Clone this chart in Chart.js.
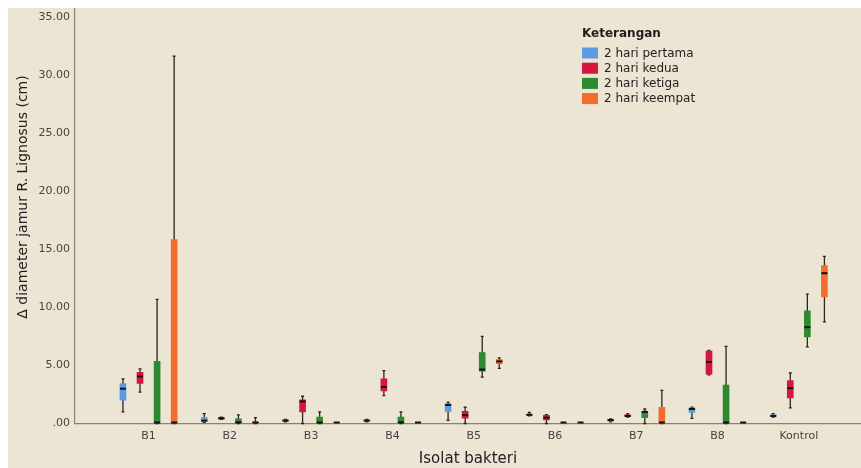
<!DOCTYPE html>
<html>
<head>
<meta charset="utf-8">
<script src="https://cdn.jsdelivr.net/npm/chart.js@4/dist/chart.umd.min.js"></script>
<style>
    html, body { margin: 0; padding: 0; background: #ffffff; }
    #wrap { position: absolute; left: 8px; top: 8px; width: 853px; height: 460px; background: #ece5d3; }
</style>
</head>
<body>
<div id="wrap"><canvas id="boxChart"></canvas></div>
<script>
// categories and series
var categories = ['B1', 'B2', 'B3', 'B4', 'B5', 'B6', 'B7', 'B8', 'Kontrol'];
var seriesLabels = ['2 hari pertama', '2 hari kedua', '2 hari ketiga', '2 hari keempat'];
var seriesColors = ['#5b9be3', '#d8163d', '#2e8a2e', '#f26c2c'];
var yTitle = 'Δ diameter jamur R. Lignosus (cm)';

// five-number summaries per category: [min, q1, median, q3, max]
var hariPertama = [
    [1.0, 2.0, 3.0, 3.45, 3.85],
    [0.1, 0.15, 0.25, 0.5, 0.85],
    [0.15, 0.2, 0.25, 0.3, 0.35],
    [0.15, 0.2, 0.25, 0.3, 0.35],
    [0.28, 1.05, 1.6, 1.7, 1.85],
    [0.65, 0.7, 0.75, 0.8, 0.95],
    [0.15, 0.2, 0.3, 0.35, 0.4],
    [0.45, 0.95, 1.25, 1.35, 1.4],
    [0.55, 0.6, 0.65, 0.75, 0.85]
];
var hariKedua = [
    [2.7, 3.45, 4.05, 4.4, 4.7],
    [0.35, 0.4, 0.45, 0.5, 0.55],
    [0, 1.0, 1.9, 2.05, 2.35],
    [2.4, 2.8, 3.15, 3.85, 4.55],
    [0, 0.45, 0.72, 1.05, 1.4],
    [0, 0.3, 0.5, 0.7, 0.77],
    [0.55, 0.6, 0.65, 0.75, 0.85],
    [4.2, 4.25, 5.3, 6.25, 6.3],
    [1.35, 2.2, 3.05, 3.7, 4.35]
];
var hariKetiga = [
    [0, 0, 0, 5.35, 10.7],
    [0, 0.05, 0.1, 0.4, 0.75],
    [0, 0, 0.05, 0.55, 1.0],
    [0, 0.05, 0.1, 0.55, 1.0],
    [4.0, 4.5, 4.65, 6.1, 7.5],
    [0, 0, 0, 0, 0],
    [0, 0.5, 1.0, 1.05, 1.25],
    [0, 0, 0, 3.3, 6.65],
    [6.6, 7.45, 8.3, 9.7, 11.15]
];
var hariKeempat = [
    [0, 0, 0, 15.85, 31.65],
    [0, 0, 0.05, 0.15, 0.5],
    [0, 0, 0, 0, 0],
    [0, 0, 0, 0, 0],
    [4.75, 5.15, 5.35, 5.5, 5.65],
    [0, 0, 0, 0, 0],
    [0, 0, 0, 1.4, 2.85],
    [0, 0, 0, 0, 0],
    [8.75, 10.9, 12.95, 13.6, 14.4]
];
var yTickValues = [0, 5, 10, 15, 20, 25, 30, 35];

(function () {
    var allSeries = [hariPertama, hariKedua, hariKetiga, hariKeempat];
    var slotWidth = 0.21; // fraction of a category used by one box slot

    function buildDatasets() {
        return allSeries.map(function (stats, s) {
            var shift = (s - 1.5) * slotWidth;
            return {
                label: seriesLabels[s],
                backgroundColor: seriesColors[s],
                borderWidth: 0,
                barThickness: 6,
                grouped: false,
                stats: stats,
                data: stats.map(function (st, i) {
                    return { x: i + shift, y: [st[1], st[3]] };
                })
            };
        });
    }

    var whiskerPlugin = {
        id: 'whiskers',
        beforeDatasetsDraw: function (chart) {
            var ctx = chart.ctx;
            var yScale = chart.scales.y;
            ctx.save();
            ctx.strokeStyle = '#2c261e';
            ctx.lineWidth = 1.3;
            chart.data.datasets.forEach(function (ds, d) {
                var meta = chart.getDatasetMeta(d);
                meta.data.forEach(function (bar, i) {
                    var st = ds.stats[i];
                    var top = yScale.getPixelForValue(st[4]);
                    var bottom = yScale.getPixelForValue(st[0]);
                    if (st[4] === st[0]) {
                        return;
                    }
                    ctx.beginPath();
                    ctx.moveTo(bar.x, top);
                    ctx.lineTo(bar.x, bottom);
                    ctx.moveTo(bar.x - 1.5, top);
                    ctx.lineTo(bar.x + 1.5, top);
                    ctx.moveTo(bar.x - 1.5, bottom);
                    ctx.lineTo(bar.x + 1.5, bottom);
                    ctx.stroke();
                });
            });
            ctx.restore();
        },
        afterDatasetsDraw: function (chart) {
            var ctx = chart.ctx;
            var yScale = chart.scales.y;
            ctx.save();
            ctx.fillStyle = '#111111';
            chart.data.datasets.forEach(function (ds, d) {
                var meta = chart.getDatasetMeta(d);
                meta.data.forEach(function (bar, i) {
                    var med = yScale.getPixelForValue(ds.stats[i][2]);
                    ctx.fillRect(bar.x - 3, Math.min(med - 1, yScale.bottom - 2), 6, 2);
                });
            });
            ctx.restore();
        }
    };

    var legendPlugin = {
        id: 'keteranganLegend',
        afterDraw: function (chart) {
            var ctx = chart.ctx;
            var left = 574;
            ctx.save();
            ctx.textBaseline = 'middle';
            ctx.fillStyle = '#1e1e1e';
            ctx.font = 'bold 12px "DejaVu Sans"';
            ctx.fillText('Keterangan', left, 26);
            ctx.font = '12px "DejaVu Sans"';
            chart.data.datasets.forEach(function (ds, d) {
                var cy = 45 + d * 15.2;
                ctx.fillStyle = ds.backgroundColor;
                ctx.fillRect(left, cy - 5.5, 16, 11);
                ctx.fillStyle = '#222222';
                ctx.fillText(ds.label, left + 22, cy + 0.5);
            });

            // y axis title, sitting a little above the axis middle as in SPSS output
            ctx.translate(15, 189);
            ctx.rotate(-Math.PI / 2);
            ctx.textAlign = 'center';
            ctx.fillStyle = '#222222';
            ctx.font = '14px "DejaVu Sans"';
            ctx.fillText(yTitle, 0, 0);
            ctx.restore();
        }
    };

    function initChart() {
        var canvas = document.getElementById('boxChart');
        new Chart(canvas.getContext('2d'), {
            type: 'bar',
            data: { datasets: buildDatasets() },
            plugins: [whiskerPlugin, legendPlugin],
            options: {
                responsive: true,
                maintainAspectRatio: false,
                animation: false,
                layout: { padding: 0 },
                plugins: {
                    legend: { display: false },
                    tooltip: { enabled: false }
                },
                scales: {
                    x: {
                        type: 'linear',
                        offset: false,
                        min: -0.905,
                        max: 8.765,
                        grid: { display: false, drawTicks: false, offset: false },
                        border: { display: true, color: '#8a8272', width: 1.2 },
                        afterBuildTicks: function (scale) {
                            scale.ticks = categories.map(function (c, i) { return { value: i }; });
                        },
                        ticks: {
                            color: '#444444',
                            font: { family: 'DejaVu Sans', size: 11 },
                            padding: 6,
                            maxRotation: 0,
                            callback: function (value) { return categories[value]; }
                        },
                        title: {
                            display: true,
                            text: 'Isolat bakteri',
                            color: '#222222',
                            font: { family: 'DejaVu Sans', size: 15 },
                            padding: { top: 5, bottom: 0 }
                        },
                        afterFit: function (scale) {
                            scale.height = 44.5;
                            scale.paddingLeft = 0;
                            scale.paddingRight = 0;
                        }
                    },
                    y: {
                        min: 0,
                        max: 35.8,
                        grid: { display: false, drawTicks: false },
                        border: { display: true, color: '#8a8272', width: 1.2 },
                        afterBuildTicks: function (scale) {
                            scale.ticks = yTickValues.map(function (v) { return { value: v }; });
                        },
                        ticks: {
                            color: '#444444',
                            font: { family: 'DejaVu Sans', size: 11 },
                            padding: 5,
                            callback: function (value) {
                                return value === 0 ? '.00' : value.toFixed(2);
                            }
                        },
                        afterFit: function (scale) {
                            scale.width = 67;
                            scale.paddingTop = 0;
                            scale.paddingBottom = 0;
                        }
                    }
                }
            }
        });
    }

    if (document.readyState === 'loading') {
        document.addEventListener('DOMContentLoaded', initChart);
    } else {
        initChart();
    }
})();
</script>
</body>
</html>
